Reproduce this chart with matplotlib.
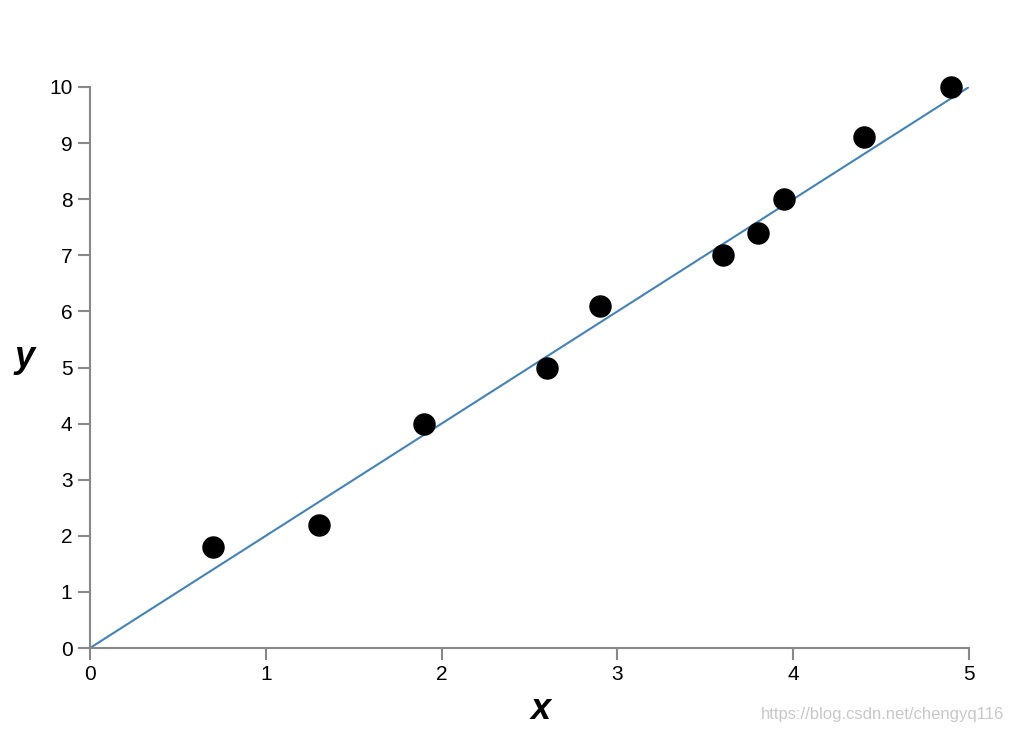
import matplotlib
matplotlib.use("Agg")
import matplotlib.pyplot as plt

# data
x_pts = [0.7, 1.3, 1.9, 2.6, 2.9, 3.6, 3.8, 3.95, 4.4, 4.9]
y_pts = [1.8, 2.2, 4.0, 5.0, 6.1, 7.0, 7.4, 8.0, 9.1, 10.0]
line_x = [0, 5]
line_y = [0, 10]
x_ticks = [0, 1, 2, 3, 4, 5]
y_ticks = list(range(0, 11))

plt.rcParams['font.family'] = ['Liberation Sans', 'DejaVu Sans']

fig = plt.figure(figsize=(10.14, 7.32), dpi=100)
ax = fig.add_axes([90 / 1014, 84 / 732, 879 / 1014, 561 / 732])

ax.plot(line_x, line_y, color="#4682b4", lw=1.5, zorder=2)
ax.scatter(x_pts, y_pts, s=230, color="black", zorder=3, clip_on=False)

ax.set_xlim(0, 5)
ax.set_ylim(0, 10)
ax.set_xticks(x_ticks)
ax.set_yticks(y_ticks)

for side in ["top", "right"]:
    ax.spines[side].set_visible(False)
for side in ["left", "bottom"]:
    ax.spines[side].set_color("#888888")
    ax.spines[side].set_linewidth(1.5)
ax.tick_params(length=8.6, width=1.5, color="#888888", labelsize=15, pad=4, labelcolor="black")

ax.set_xlabel("x", fontsize=26, fontweight="bold", fontstyle="italic", va="center")
ax.set_ylabel("y", fontsize=26, fontweight="bold", fontstyle="italic", rotation=0, va="center", ha="center")
ax.xaxis.set_label_coords(0.513, -0.11)
ax.yaxis.set_label_coords(-0.074, 0.517)

fig.text(1004 / 1014, 18 / 732, "https://blog.csdn.net/chengyq116", ha="right", va="center",
         fontsize=12, color="#c8c8c8")

fig.savefig("out.png", dpi=100)
